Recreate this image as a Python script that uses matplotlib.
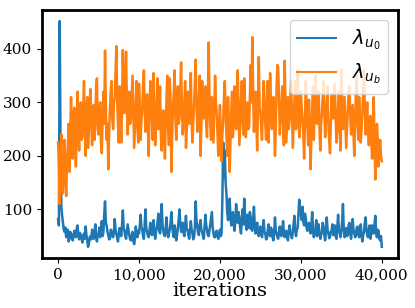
import numpy as np
import matplotlib
matplotlib.use("Agg")
from matplotlib import pyplot as plt
from matplotlib.ticker import FuncFormatter

# iterations, one point every 100
iters = list(range(0, 40001, 100))

lam_u0 = [
    82, 70, 452, 210, 105, 88, 75, 62, 58, 66,
    48, 55, 62, 40, 45, 58, 55, 47, 42, 50,
    60, 52, 48, 64, 70, 50, 44, 56, 52, 46,
    38, 50, 55, 45, 68, 52, 42, 30, 35, 48,
    50, 44, 62, 55, 45, 58, 72, 48, 40, 52,
    55, 66, 48, 60, 78, 50, 58, 90, 115, 75,
    70, 58, 52, 44, 45, 62, 60, 50, 48, 56,
    82, 62, 55, 46, 40, 52, 65, 58, 50, 70,
    98, 66, 60, 50, 45, 58, 72, 62, 52, 44,
    42, 50, 58, 40, 35, 46, 68, 55, 48, 60,
    55, 70, 90, 66, 62, 50, 45, 72, 100, 64,
    58, 50, 48, 62, 75, 55, 52, 68, 80, 56,
    45, 58, 65, 78, 92, 60, 55, 70, 110, 72,
    60, 52, 50, 66, 85, 58, 48, 55, 62, 75,
    95, 68, 55, 48, 70, 58, 42, 52, 65, 80,
    100, 72, 58, 64, 75, 56, 50, 70, 88, 62,
    62, 52, 45, 60, 78, 62, 55, 44, 48, 66,
    115, 80, 68, 56, 52, 70, 80, 62, 58, 50,
    45, 68, 90, 70, 62, 52, 50, 60, 72, 85,
    95, 66, 55, 48, 48, 58, 60, 50, 45, 52,
    62, 50, 55, 120, 225, 160, 210, 150, 130, 95,
    80, 105, 120, 85, 70, 90, 95, 72, 60, 78,
    110, 88, 75, 95, 85, 66, 55, 80, 100, 72,
    120, 90, 70, 62, 90, 78, 65, 95, 85, 62,
    60, 80, 105, 70, 55, 66, 75, 58, 50, 62,
    68, 55, 48, 62, 80, 58, 55, 44, 45, 60,
    72, 58, 50, 66, 62, 48, 42, 55, 85, 60,
    55, 48, 45, 58, 68, 52, 50, 62, 78, 56,
    48, 55, 60, 50, 42, 58, 70, 56, 52, 46,
    58, 72, 88, 60, 50, 62, 65, 90, 118, 95,
    90, 80, 105, 78, 70, 92, 85, 66, 60, 72,
    75, 62, 55, 70, 95, 60, 48, 55, 62, 80,
    50, 62, 72, 54, 45, 52, 58, 75, 68, 52,
    42, 60, 85, 62, 55, 46, 48, 58, 62, 72,
    52, 60, 70, 50, 45, 66, 90, 62, 55, 48,
    60, 78, 110, 62, 48, 58, 65, 50, 52, 70,
    75, 55, 45, 60, 82, 62, 55, 48, 50, 66,
    68, 54, 48, 62, 72, 50, 40, 52, 58, 75,
    85, 62, 52, 48, 62, 70, 45, 55, 70, 58,
    55, 72, 88, 56, 48, 62, 60, 45, 42, 50,
    30,
]

lam_ub = [
    225, 180, 110, 200, 240, 155, 130, 180, 230, 165,
    125, 190, 215, 260, 170, 240, 310, 225, 195, 280,
    290, 220, 180, 265, 320, 250, 210, 280, 300, 230,
    235, 290, 340, 260, 200, 275, 310, 215, 250, 300,
    325, 260, 220, 285, 295, 230, 270, 330, 345, 250,
    240, 285, 300, 225, 205, 270, 320, 260, 397, 290,
    230, 260, 175, 240, 285, 320, 340, 270, 250, 300,
    310, 360, 405, 300, 260, 225, 330, 280, 225, 290,
    398, 310, 280, 350, 395, 300, 240, 275, 320, 260,
    270, 310, 350, 280, 215, 260, 300, 340, 255, 225,
    335, 290, 230, 270, 290, 330, 360, 280, 245, 300,
    315, 250, 200, 285, 340, 300, 265, 230, 355, 290,
    220, 270, 300, 345, 250, 290, 330, 240, 210, 275,
    285, 240, 195, 260, 310, 350, 255, 220, 345, 300,
    170, 240, 290, 320, 360, 270, 230, 290, 330, 260,
    270, 320, 375, 290, 240, 265, 300, 340, 215, 250,
    320, 280, 260, 310, 355, 270, 225, 260, 295, 340,
    380, 300, 245, 280, 310, 350, 200, 255, 340, 290,
    270, 300, 330, 260, 235, 290, 412, 320, 260, 230,
    310, 270, 225, 290, 350, 300, 280, 240, 200, 260,
    295, 250, 190, 240, 265, 310, 340, 280, 240, 200,
    310, 250, 170, 230, 285, 320, 235, 270, 330, 290,
    250, 300, 360, 290, 220, 260, 305, 340, 270, 240,
    345, 290, 235, 270, 300, 250, 255, 310, 370, 300,
    422, 320, 245, 290, 320, 260, 210, 300, 385, 290,
    280, 250, 230, 290, 340, 300, 260, 230, 300, 340,
    225, 280, 355, 300, 250, 280, 310, 260, 200, 250,
    330, 370, 365, 300, 240, 270, 295, 330, 260, 220,
    378, 300, 225, 270, 310, 250, 270, 310, 340, 280,
    215, 260, 300, 340, 250, 290, 360, 300, 235, 260,
    320, 290, 270, 240, 195, 260, 340, 300, 255, 220,
    305, 250, 175, 240, 290, 330, 230, 280, 350, 300,
    260, 300, 320, 250, 210, 260, 280, 310, 340, 280,
    235, 270, 300, 330, 255, 230, 205, 260, 315, 280,
    270, 300, 335, 270, 225, 250, 290, 320, 245, 210,
    362, 300, 250, 280, 310, 260, 215, 250, 285, 320,
    330, 280, 240, 270, 295, 240, 200, 260, 320, 350,
    265, 230, 310, 270, 225, 250, 280, 320, 360, 290,
    240, 270, 300, 250, 220, 260, 275, 230, 195, 250,
    310, 220, 156, 200, 260, 230, 180, 210, 230, 200,
    190,
]

plt.rcParams["font.family"] = "DejaVu Serif"
plt.rcParams["mathtext.fontset"] = "dejavusans"

fig = plt.figure(figsize=(4.15, 3.08), dpi=100)
ax = fig.add_axes([0.101, 0.162, 0.858, 0.806])
ax.plot(iters, lam_u0, color="#1f77b4", lw=1.8, label=r"$\lambda_{u_0}$")
ax.plot(iters, lam_ub, color="#ff7f0e", lw=1.8, label=r"$\lambda_{u_b}$")

ax.xaxis.set_major_formatter(FuncFormatter(lambda v, p: "{:,.0f}".format(v)))
ax.set_xticks([0, 10000, 20000, 30000, 40000])
ax.set_yticks([100, 200, 300, 400])
ax.tick_params(labelsize=11)
ax.set_xlabel("iterations", fontsize=14, labelpad=0)
for s in ax.spines.values():
    s.set_linewidth(2)
    s.set_color("black")
leg = ax.legend(loc="upper right", fontsize=14)
for h in leg.get_lines():
    h.set_linewidth(1.5)

plt.savefig("out.png", dpi=100)
